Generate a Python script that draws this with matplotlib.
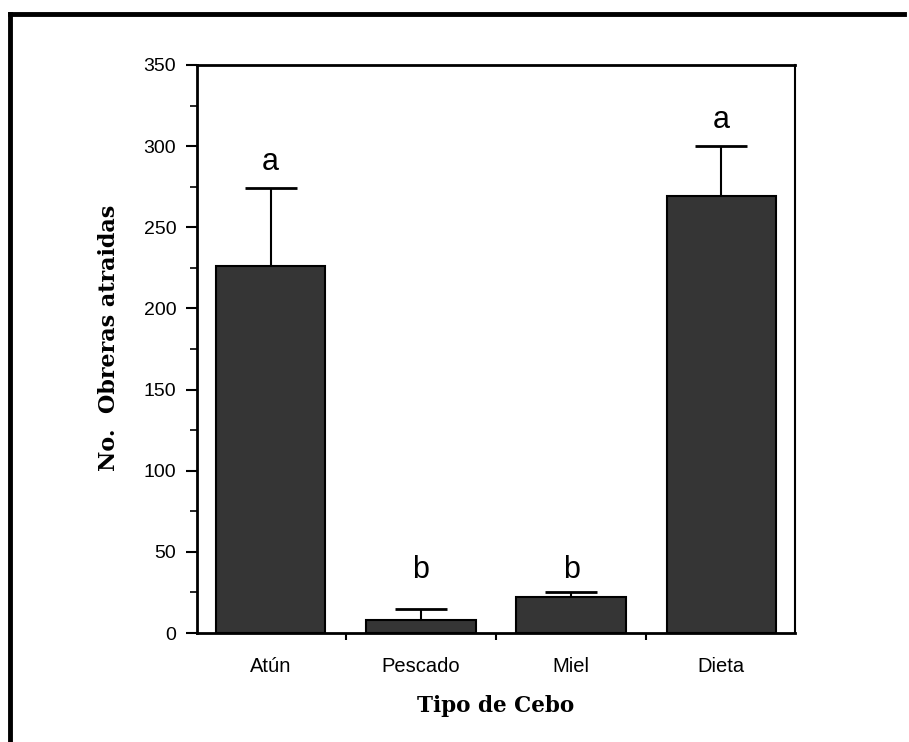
import matplotlib.pyplot as plt
from matplotlib.lines import Line2D

# datos
cebos = ['Atún', 'Pescado', 'Miel', 'Dieta']
obreras = [226, 8, 22, 269]
error_sup = [48, 7, 3, 31]
letras = ['a', 'b', 'b', 'a']
letras_y = [285, 34, 34, 311]

fig = plt.figure(figsize=(9.09, 7.42), dpi=100)
ax = fig.add_axes([0.2167, 0.1469, 0.6579, 0.7655])

x = list(range(len(cebos)))
ax.bar(x, obreras, width=0.73, color='#353535', edgecolor='black', linewidth=1.5, zorder=2)
ax.errorbar(x, obreras, yerr=[[0] * len(x), error_sup], fmt='none', ecolor='black',
            elinewidth=1.5, capsize=19, capthick=2, zorder=1)

for xi, letra, yl in zip(x, letras, letras_y):
    ax.text(xi, yl, letra, ha='center', va='baseline', fontsize=22, family='Liberation Sans')

ax.set_xlim(-0.49, 3.49)
ax.set_ylim(0, 350)
ax.set_yticks(range(0, 351, 50))
ax.set_yticks(range(25, 351, 50), minor=True)
ax.set_xticks([0.5, 1.5, 2.5])
ax.set_xticklabels([])
ax.set_xticks(x, minor=True)
ax.set_xticklabels(cebos, minor=True)
ax.tick_params(axis='x', which='minor', length=0, pad=17, labelsize=14.5)
ax.tick_params(axis='x', which='major', length=5, width=1.5)
ax.tick_params(axis='y', which='major', length=8, width=1.5, labelsize=14, pad=7)
ax.tick_params(axis='y', which='minor', length=5, width=1.2)
for lab in ax.get_xticklabels(minor=True) + ax.get_yticklabels():
    lab.set_family('Liberation Sans')

for s in ['left', 'bottom', 'top']:
    ax.spines[s].set_linewidth(2)
ax.spines['right'].set_linewidth(1.5)

ax.set_ylabel('No.  Obreras atraidas', fontsize=16, fontweight='bold',
              family='DejaVu Serif')
ax.yaxis.set_label_coords(-0.128, 0.52)
ax.set_xlabel('Tipo de Cebo', fontsize=15.5, fontweight='bold',
              family='DejaVu Serif', labelpad=14)

# marco exterior (solo arriba e izquierda)
fig.add_artist(Line2D([0.011, 0.995], [0.981, 0.981], color='black', lw=3.5))
fig.add_artist(Line2D([0.011, 0.011], [0.0, 0.981], color='black', lw=3.5))

plt.savefig('out.png', dpi=100)
